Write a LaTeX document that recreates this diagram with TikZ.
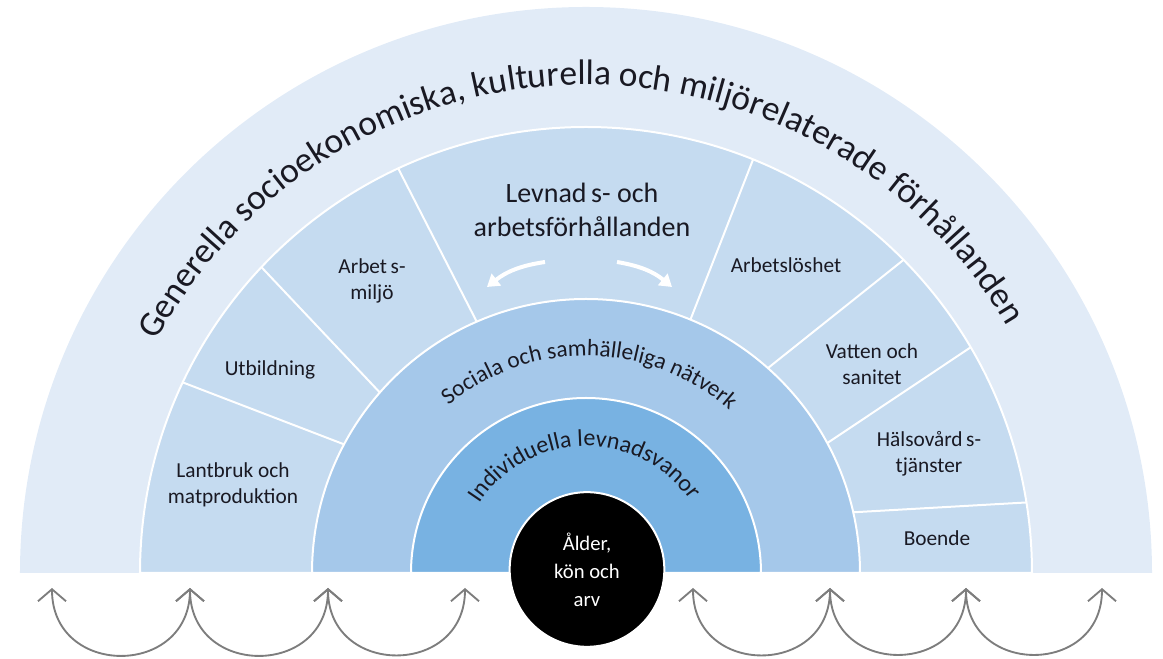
\documentclass[tikz,border=0pt]{standalone}
\usepackage{fontspec}
\setmainfont{Carlito}
\usepackage{tikz}
\usetikzlibrary{arrows.meta,positioning,decorations.text}
\definecolor{bandA}{RGB}{225,235,247}
\definecolor{bandB}{RGB}{197,219,240}
\definecolor{bandC}{RGB}{165,200,234}
\definecolor{bandD}{RGB}{120,178,226}
\definecolor{inkc}{RGB}{25,25,35}
\definecolor{loopc}{RGB}{125,125,125}
\tikzset{
 x=0.75pt, y=0.75pt,
 lab/.style={align=center, text=inkc, font=\fontsize{16}{19.5}\selectfont},
 ring/.style={draw=white, line width=1.5pt},
 divider/.style={draw=white, line width=1.5pt},
 swoop/.style={draw=loopc, line width=1.4pt,
   {Straight Barb[length=9pt,width=21pt]}-{Straight Barb[length=9pt,width=21pt]}},
 swing/.style={draw=white, line width=3pt, -{Triangle[length=9pt,width=11pt,fill=white]}},
 bowtext/.style={decorate, decoration={text along path, text align=center, text color=inkc}}
}

\begin{document}
\begin{tikzpicture}
\useasboundingbox (-586,-86) rectangle (577,573);

\path[fill=bandA] (-566,0) arc[start angle=180, end angle=0, radius=566] -- cycle;
\path[ring, fill=bandB] (-446,0) arc[start angle=180, end angle=0, radius=446] -- cycle;
\path[ring, fill=bandC] (-274,0) arc[start angle=180, end angle=0, radius=274] -- cycle;
\path[ring, fill=bandD] (-175,0) arc[start angle=180, end angle=0, radius=175] -- cycle;

\path[divider] (152:274) -- (154.7:446);
\path[divider] (138.8:274) -- (136.7:446);
\path[divider] (113.5:274) -- (114.9:446);
\path[divider] (67.6:274) -- (68:446);
\path[divider] (48.4:274) -- (44.6:446);
\path[divider] (28.3:274) -- (30.4:446);
\path[divider] (12.8:274) -- (9.1:446);

\path[bowtext, decoration={text={|\fontsize{26.6}{30}\selectfont|Generella socioekonomiska, kulturella och miljörelaterade förhållanden}}]
  (172:488) arc[start angle=172, end angle=10, radius=488];
\path[bowtext, decoration={text={|\fontsize{17.5}{20}\selectfont|Sociala och samhälleliga nätverk}}]
  (175:217) arc[start angle=175, end angle=3, radius=217];
\path[bowtext, decoration={text={|\fontsize{18}{20}\selectfont|Individuella levnadsvanor}}]
  (178:127) arc[start angle=178, end angle=4, radius=127];

\path (-353,88) node[name=lantbruk, lab] {Lantbruk och\\matproduktion};
\path (-316,203) node[name=utbildning, lab] {Utbildning};
\path (-214,292) node[name=arbetsmiljo, lab] {Arbet\,s-\\miljö};
\path (-4,363) node[name=levnads, lab, font=\fontsize{21}{26}\selectfont] {Levnad\,s- och\\arbetsförhållanden};
\path (200,308) node[name=arbetsloshet, lab] {Arbetslöshet};
\path (286,209) node[name=vatten, lab] {Vatten och\\sanitet};
\path (343,119) node[name=halsovard, lab] {Hälsovård\,s-\\tjänster};
\path (351,35) node[name=boende, lab] {Boende};

\path (-41,311) coordinate (swingL0);
\path (-99,286) coordinate (swingL1);
\path (31,311) coordinate (swingR0);
\path (86,286) coordinate (swingR1);
\draw[swing] (swingL0) to[bend right=15] (swingL1);
\draw[swing] (swingR0) to[bend left=15] (swingR1);

\path (1,3.5) node[name=core, circle, fill=black, draw=white, line width=1.5pt,
  minimum size=116pt, inner sep=0pt, text=white, align=center,
  font=\fontsize{15.5}{21}\selectfont] {Ålder,\\kön och\\arv};

\path (-534,-15) coordinate (t1);
\path (-396,-15) coordinate (t2);
\path (-258,-15) coordinate (t3);
\path (-121,-15) coordinate (t4);
\path (107,-15) coordinate (s1);
\path (244,-15) coordinate (s2);
\path (380,-15) coordinate (s3);
\path (516,-15) coordinate (s4);

\path (t1) edge[swoop, out=-90, in=-90, looseness=1.67] (t2);
\path (t2) edge[swoop, out=-90, in=-90, looseness=1.67] (t3);
\path (t3) edge[swoop, out=-90, in=-90, looseness=1.67] (t4);
\path (s1) edge[swoop, out=-90, in=-90, looseness=1.67] (s2);
\path (s2) edge[swoop, out=-90, in=-90, looseness=1.67] (s3);
\path (s3) edge[swoop, out=-90, in=-90, looseness=1.67] (s4);

\end{tikzpicture}
\end{document}
